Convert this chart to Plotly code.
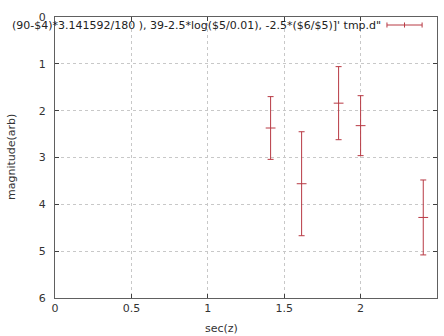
import plotly.graph_objects as go

sec_z = [1.411, 1.614, 1.856, 2.0, 2.41]
magnitude = [2.37, 3.56, 1.84, 2.32, 4.28]
mag_err = [0.67, 1.11, 0.78, 0.64, 0.80]

x_ticks = [0, 0.5, 1, 1.5, 2, 2.5]
x_tick_labels = ["0", "0.5", "1", "1.5", "2", "2.5"]
y_ticks = [0, 1, 2, 3, 4, 5, 6]
y_tick_labels = ["0", "1", "2", "3", "4", "5", "6"]

x_title = "sec(z)"
y_title = "magnitude(arb)"
legend_label = "(90-$4)*3.141592/180 ), 39-2.5*log($5/0.01), -2.5*($6/$5)]' tmp.d\""

color = "#b83a44"
font = "DejaVu Sans, sans-serif"
txt = dict(size=11, color="#333", family=font)

fig = go.Figure()
fig.add_trace(go.Scatter(
    x=sec_z, y=magnitude, mode="markers",
    marker=dict(symbol="line-ew", size=7, line=dict(color=color, width=1)),
    error_y=dict(type="data", array=mag_err, visible=True, color=color, thickness=1, width=3),
    showlegend=False, hoverinfo="skip",
))

# legend (text + errorbar sample)
fig.add_annotation(xref="paper", yref="paper", x=0.859, y=0.9715, xanchor="right", yanchor="middle",
                   text=legend_label, showarrow=False, font=dict(size=11, color="#222", family=font))
lx0, lx1, ly = 0.869, 0.961, 0.9715
fig.add_shape(type="line", xref="paper", yref="paper", x0=lx0, x1=lx1, y0=ly, y1=ly, line=dict(color=color, width=1))
for xx in (lx0, (lx0 + lx1) / 2, lx1):
    fig.add_shape(type="line", xref="paper", yref="paper", x0=xx, x1=xx, y0=ly - 0.009, y1=ly + 0.009,
                  line=dict(color=color, width=1))

# axis titles as annotations
fig.add_annotation(xref="paper", yref="paper", x=0.435, y=0, yshift=-22, xanchor="center", yanchor="top",
                   text=x_title, showarrow=False, font=txt)
fig.add_annotation(xref="paper", yref="paper", x=0, xshift=-35, y=0.5, xanchor="right", yanchor="middle",
                   text=y_title, textangle=-90, showarrow=False, font=txt)

axis_common = dict(
    showgrid=True, gridcolor="#c8c8c8", griddash="dot", gridwidth=1,
    showline=True, linecolor="#606060", linewidth=1, mirror="ticks",
    ticks="inside", ticklen=4, tickcolor="#404040",
    zeroline=False, tickfont=txt, automargin=False,
)
fig.update_xaxes(range=[0, 2.5], tickvals=x_ticks, ticktext=x_tick_labels, **axis_common)
fig.update_yaxes(range=[6, 0], tickvals=y_ticks, ticktext=y_tick_labels, ticklabelstandoff=6, **axis_common)

fig.update_layout(
    width=444, height=336,
    margin=dict(l=55, r=7, t=17, b=38),
    paper_bgcolor="white", plot_bgcolor="white",
)
fig.write_html("out.html", config={"displayModeBar": False},
               post_script="document.body.style.margin='0';")
